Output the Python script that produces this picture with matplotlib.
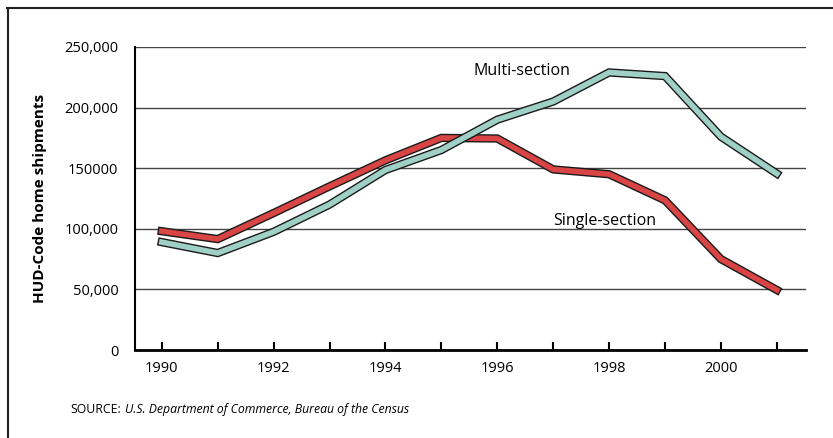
import matplotlib.pyplot as plt
import matplotlib.patheffects as pe
from matplotlib.lines import Line2D

# HUD-Code home shipments by year
years = [1990, 1991, 1992, 1993, 1994, 1995, 1996, 1997, 1998, 1999, 2000, 2001]
single_section = [98000, 91500, 113000, 135000, 156500, 175000, 174500, 149000, 145000, 123500, 75000, 49500]
multi_section = [89000, 80000, 97500, 120000, 148500, 165000, 190000, 205000, 229000, 226000, 176000, 145500]
y_ticks = [0, 50000, 100000, 150000, 200000, 250000]
y_labels = ["0", "50,000", "100,000", "150000", "200,000", "250,000"]
x_label_years = [1990, 1992, 1994, 1996, 1998, 2000]

plt.rcParams['font.family'] = ['Open Sans', 'DejaVu Sans']

fig = plt.figure(figsize=(8.33, 4.38), dpi=100)
ax = fig.add_axes([0.162, 0.2009, 0.8055, 0.6918])

# outer frame (top and left only)
fig.add_artist(Line2D([0.008, 1.0], [0.982, 0.982], color='#222222', lw=1.5))
fig.add_artist(Line2D([0.0096, 0.0096], [0.0, 0.982], color='#222222', lw=1.5))

for v in y_ticks[1:]:
    ax.axhline(v, color='#444444', lw=1, zorder=1)

outline = [pe.Stroke(linewidth=6, foreground='#1a1a1a'), pe.Normal()]
ax.plot(years, single_section, color='#d94545', lw=4, solid_joinstyle='miter',
        path_effects=outline, zorder=3)
ax.plot(years, multi_section, color='#9fd0c6', lw=4, solid_joinstyle='miter',
        path_effects=outline, zorder=3)

ax.text(1995.57, 230000, "Multi-section", fontsize=11.5, ha='left', va='center')
ax.text(1997.0, 106500, "Single-section", fontsize=11.5, ha='left', va='center')

ax.set_xlim(1989.52, 2001.52)
ax.set_ylim(0, 250000)
ax.set_yticks(y_ticks)
ax.set_yticklabels(y_labels, fontsize=10.5)
ax.tick_params(axis='y', length=0, pad=12)
ax.set_xticks(years)
ax.set_xticklabels([str(y) if y in x_label_years else "" for y in years], fontsize=10.5)
ax.tick_params(axis='x', direction='in', length=6, width=1.5, pad=8)

for side in ['top', 'right']:
    ax.spines[side].set_visible(False)
ax.spines['left'].set_linewidth(1.5)
ax.spines['bottom'].set_linewidth(2)

ax.set_ylabel("HUD-Code home shipments", fontsize=11, fontweight='bold', labelpad=12)

fig.text(0.085, 0.064, "SOURCE:", fontsize=8.8, ha='left', va='center')
fig.text(0.150, 0.064, "U.S. Department of Commerce, Bureau of the Census",
         fontsize=8.8, style='italic', ha='left', va='center')

fig.savefig("out.png", dpi=100)
